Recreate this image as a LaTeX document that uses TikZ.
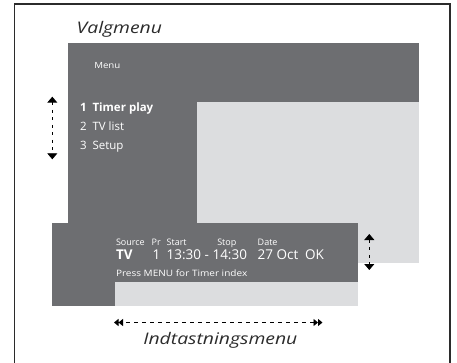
\documentclass[tikz,border=0pt]{standalone}
\usepackage{fontspec}
\setmainfont{Open Sans}
\newfontfamily\widefont{Open Sans}[FakeStretch=1.21]
\newfontfamily\semiwide{Open Sans}[FakeStretch=1.14]
\usetikzlibrary{arrows.meta}
\definecolor{dk}{HTML}{6D6E71}
\definecolor{lt}{HTML}{DCDDDF}
\definecolor{fr}{HTML}{2B2B2B}
\tikzset{
  txt/.style={anchor=base west, inner sep=0pt, outer sep=0pt},
  wtxt/.style={txt, text=white},
  ttl/.style={txt, text=fr, font=\widefont\itshape\fontsize{16}{19}\selectfont},
  vdash/.style={line width=0.9pt, dash pattern=on 3pt off 4.5pt, {Triangle[width=10pt,length=6pt]}-{Triangle[width=10pt,length=6pt]}},
  hdash/.style={line width=0.9pt, dash pattern=on 4pt off 4pt, {Triangle[width=7pt,length=4.5pt] Triangle[width=7pt,length=4.5pt]}-{Triangle[width=7pt,length=4.5pt] Triangle[width=7pt,length=4.5pt]}}
}
\begin{document}
\begin{tikzpicture}[x=1pt,y=-1pt]
\useasboundingbox (0,0) rectangle (457,363);
% frame
\draw[fr, line width=1.3pt] (14.7,364) -- (14.7,4) -- (450,4) -- (450,364);
% upper panel
\fill[dk] (68.3,43.3) rectangle (418.7,223);
\fill[lt] (197,102) rectangle (419,262.7);
% lower panel
\fill[dk] (52,223) rectangle (357.7,306);
\fill[lt] (115,281.7) rectangle (357.7,306);
% titles
\node[ttl] (valg) at (76.7,33.5) {Valgmenu};
\node[ttl] (indt) at (143.3,344.3) {Indtastningsmenu};
% upper menu text
\node[wtxt, font=\semiwide\fontsize{8.5}{10}\selectfont] (menu) at (94.3,68.3) {Menu};
\node[wtxt, font=\bfseries\fontsize{11.5}{14}\selectfont] (m1) at (80,111.7) {1\ \ Timer play};
\node[wtxt, font=\fontsize{11.5}{14}\selectfont] (m2) at (80,131) {2\ \ TV list};
\node[wtxt, font=\fontsize{11.5}{14}\selectfont] (m3) at (80,150) {3\ \ Setup};
% lower panel text
\begin{scope}[every node/.style={wtxt, font=\fontsize{9}{11}\selectfont}]
\node (hsrc) at (116,245) {Source};
\node (hpr) at (151.7,245) {Pr};
\node (hstart) at (166.7,245) {Start};
\node (hstop) at (217.3,245) {Stop};
\node (hdate) at (257.7,245) {Date};
\end{scope}
\begin{scope}[every node/.style={wtxt, font=\fontsize{13.5}{15}\selectfont}]
\node[font=\bfseries\fontsize{13.5}{15}\selectfont] (vtv) at (116,259.3) {TV};
\node (vpr) at (152.7,259.3) {1};
\node (vtime) at (166.7,259.3) {13:30 - 14:30};
\node (vdate) at (257.7,259.3) {27 Oct};
\node (vok) at (305,259.3) {OK};
\end{scope}
\node[wtxt, font=\semiwide\fontsize{8.8}{10}\selectfont] (press) at (116,276) {Press MENU for Timer index};
% arrows
\coordinate (la) at (52.3,96.7);
\coordinate (lb) at (52.3,159.3);
\draw[vdash] (la) -- (lb);
\coordinate (ra) at (369.3,234);
\coordinate (rb) at (369.3,270);
\draw[vdash] (ra) -- (rb);
\coordinate (ha) at (114,322.5);
\coordinate (hb) at (322.5,322.5);
\draw[hdash] (ha) -- (hb);
\end{tikzpicture}
\end{document}
